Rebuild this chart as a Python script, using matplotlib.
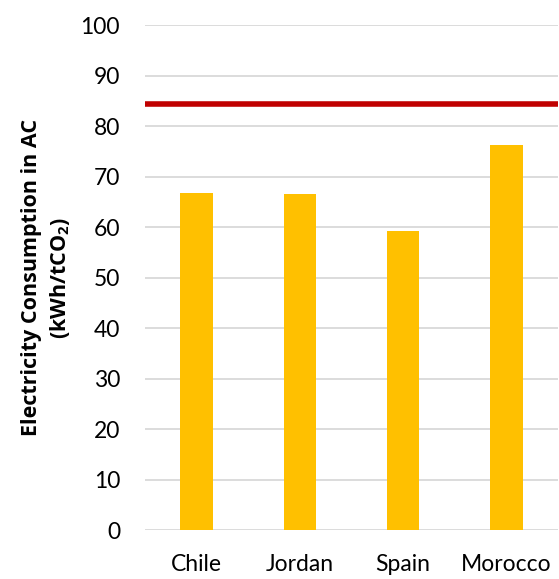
import matplotlib.pyplot as plt

plt.rcParams['font.family'] = ['Lato', 'DejaVu Sans']
# subscript digit in the axis label drawn bold like the rest of it
plt.rcParams['mathtext.fontset'] = 'custom'
plt.rcParams['mathtext.rm'] = 'Open Sans:bold'

countries = ['Chile', 'Jordan', 'Spain', 'Morocco']
consumption = [66.7, 66.6, 59.2, 76.2]
reference_level = 84.4
y_ticks = [0, 10, 20, 30, 40, 50, 60, 70, 80, 90, 100]

fig = plt.figure(figsize=(5.59, 5.79), dpi=100)
ax = fig.add_axes([0.2594, 0.0846, 0.7386, 0.8722])

x = range(len(countries))
ax.bar(x, consumption, width=0.315, color='#FFC000', zorder=3)
ax.axhline(reference_level, color='#C00000', linewidth=4, zorder=4)

ax.set_xlim(-0.5, len(countries) - 0.5)
ax.set_ylim(0, 100)
ax.set_yticks(y_ticks)
ax.set_xticks(list(x))
ax.set_xticklabels(countries)
ax.tick_params(axis='both', length=0, labelsize=16.5, colors='black')
ax.tick_params(axis='y', pad=18)
ax.tick_params(axis='x', pad=17)

ax.grid(axis='y', color='#D9D9D9', linewidth=1.3, zorder=0)
for side in ['top', 'right', 'left', 'bottom']:
    ax.spines[side].set_visible(False)

ax.set_ylabel('Electricity Consumption in AC\n(kWh/tCO$_2$)', fontsize=15.5,
              fontweight='bold', family=['Open Sans', 'DejaVu Sans'],
              labelpad=6, linespacing=1.35)

fig.savefig('out.png', dpi=100)
